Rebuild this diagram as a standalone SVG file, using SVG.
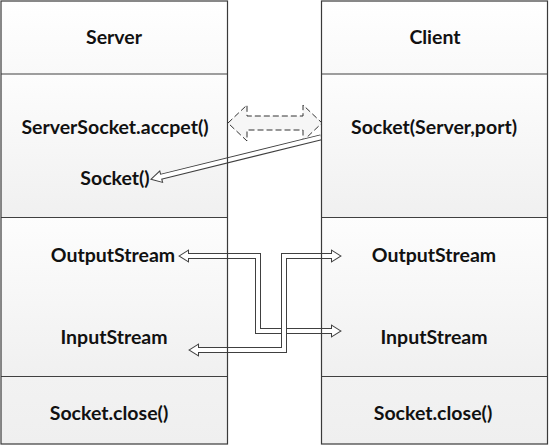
<svg xmlns="http://www.w3.org/2000/svg" width="551" height="447" viewBox="0 0 551 447">
<defs>
<linearGradient id="gTop" x1="0" y1="0" x2="0" y2="1"><stop offset="0" stop-color="#ffffff"/><stop offset="1" stop-color="#f9f9f9"/></linearGradient>
<linearGradient id="gMid" x1="0" y1="0" x2="0" y2="1"><stop offset="0" stop-color="#fdfdfd"/><stop offset="1" stop-color="#f0f0f0"/></linearGradient>
<linearGradient id="gBot" x1="0" y1="0" x2="0" y2="1"><stop offset="0" stop-color="#f2f2f2"/><stop offset="1" stop-color="#efefef"/></linearGradient>
</defs>
<style>
text{font-family:Lato,"Open Sans","Liberation Sans",sans-serif;font-weight:700;font-size:19.5px;fill:#111;text-anchor:middle}
.div{stroke:#404040;stroke-width:1;fill:none}
.frame{stroke:#3a3a3a;stroke-width:1.2;fill:none}
.so{fill:none;stroke:#404040;stroke-width:6;stroke-linejoin:miter}
.si{fill:none;stroke:#ffffff;stroke-width:4;stroke-linejoin:miter}
.ho{fill:#ffffff;stroke:#404040;stroke-width:2;stroke-linejoin:miter}
.hi{fill:#ffffff;stroke:none}
.dash{fill:#f6f6f6;stroke:#333;stroke-width:1;stroke-dasharray:6,3}
</style>
<rect width="551" height="447" fill="#ffffff"/>
<g id="server-header"><rect x="1" y="1" width="226.5" height="73" fill="url(#gTop)"/><text x="114" y="44">Server</text></g>
<g id="server-accept"><rect x="1" y="74" width="226.5" height="143.5" fill="url(#gMid)"/><line class="div" x1="1" y1="74" x2="227.5" y2="74"/><text x="115" y="134">ServerSocket.accpet()</text><text x="115" y="185">Socket()</text></g>
<g id="server-streams"><rect x="1" y="217.5" width="226.5" height="159" fill="url(#gMid)"/><line class="div" x1="1" y1="217.5" x2="227.5" y2="217.5"/><text x="113" y="262">OutputStream</text><text x="114" y="344">InputStream</text></g>
<g id="server-close"><rect x="1" y="376.5" width="226.5" height="67.5" fill="url(#gBot)"/><line class="div" x1="1" y1="376.5" x2="227.5" y2="376.5"/><text x="109" y="420">Socket.close()</text></g>
<g id="client-header"><rect x="321.5" y="1" width="226" height="73" fill="url(#gTop)"/><text x="435" y="44">Client</text></g>
<g id="client-socket"><rect x="321.5" y="74" width="226" height="143.5" fill="url(#gMid)"/><line class="div" x1="321.5" y1="74" x2="547.5" y2="74"/><text x="434" y="134">Socket(Server,port)</text></g>
<g id="client-streams"><rect x="321.5" y="217.5" width="226" height="159" fill="url(#gMid)"/><line class="div" x1="321.5" y1="217.5" x2="547.5" y2="217.5"/><text x="434" y="262">OutputStream</text><text x="434" y="344">InputStream</text></g>
<g id="client-close"><rect x="321.5" y="376.5" width="226" height="67.5" fill="url(#gBot)"/><line class="div" x1="321.5" y1="376.5" x2="547.5" y2="376.5"/><text x="433" y="420">Socket.close()</text></g>
<g id="connectors">
<polygon class="dash" points="228,123 247,105 247,116 303,116 303,105 322,123 303,141 303,130 247,130 247,141"/>
<g id="conn-socket">
<path class="so" d="M321,137.3 L160.7,176.8"/>
<polygon class="ho" points="152,179 161.9,181.7 159.5,172"/>
<path class="si" d="M321,137.3 L159.7,177"/>
<polygon class="hi" points="152,179 161.9,181.7 159.5,172"/>
</g>
<g id="conn-a">
<path class="so" d="M188,256 H258 V331 H332"/>
<polygon class="ho" points="180,256 188,251 188,261"/>
<polygon class="ho" points="340,331 332,326 332,336"/>
<path class="si" d="M187,256 H258 V331 H333"/>
<polygon class="hi" points="180,256 188,251 188,261"/>
<polygon class="hi" points="340,331 332,326 332,336"/>
</g>
<g id="conn-b">
<path class="so" d="M332,256 H284 V350 H198"/>
<polygon class="ho" points="340,256 332,251 332,261"/>
<polygon class="ho" points="190,350 198,345 198,355"/>
<path class="si" d="M333,256 H284 V350 H197"/>
<polygon class="hi" points="340,256 332,251 332,261"/>
<polygon class="hi" points="190,350 198,345 198,355"/>
</g>
</g>
<g id="frames">
<rect class="frame" x="1" y="1" width="226.5" height="443"/>
<rect class="frame" x="321.5" y="1" width="226" height="443"/>
</g>
</svg>
